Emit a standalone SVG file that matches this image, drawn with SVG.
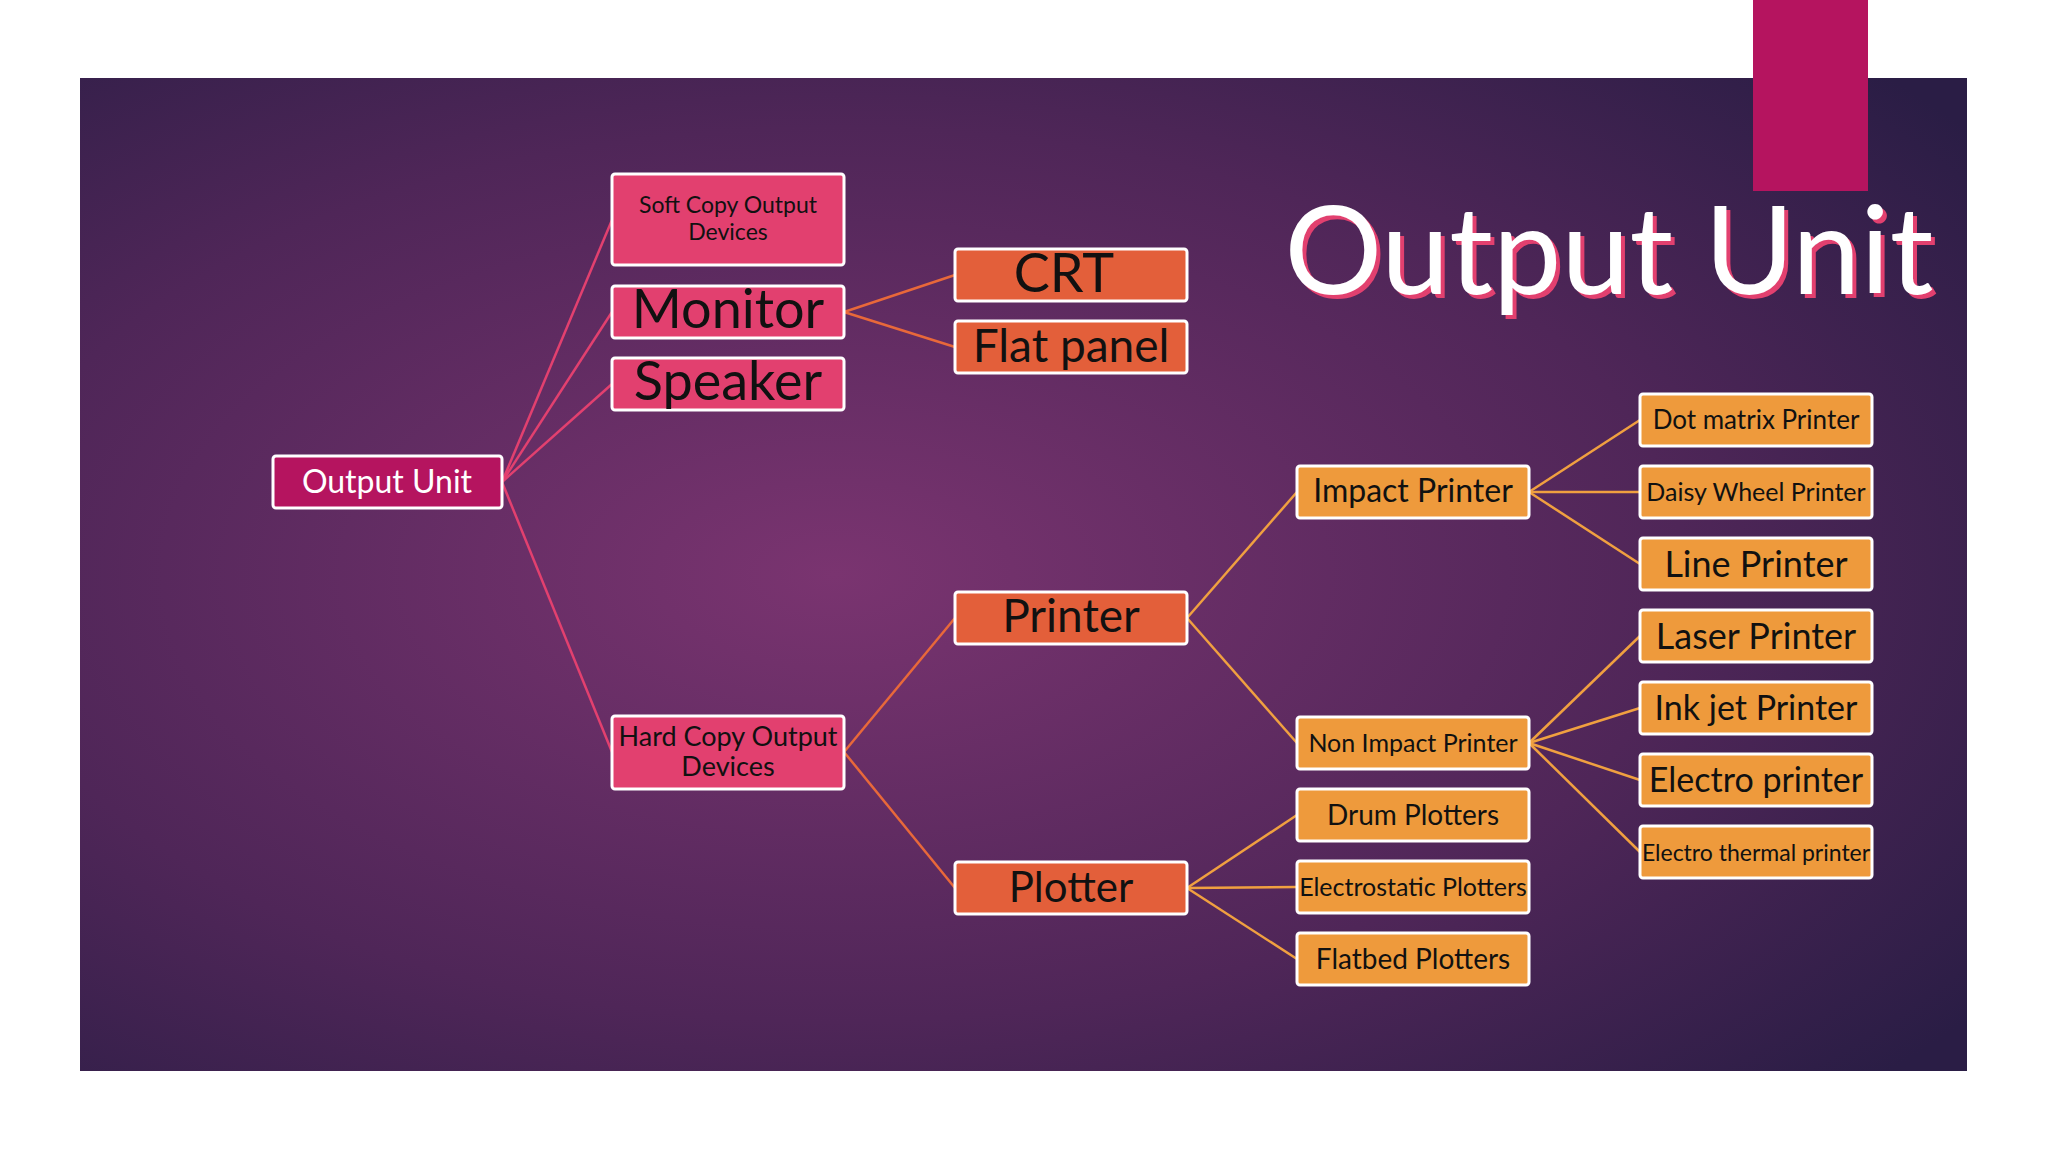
<svg xmlns="http://www.w3.org/2000/svg" width="2048" height="1152" viewBox="0 0 2048 1152">
<defs>
<radialGradient id="bg" cx="0.4" cy="0.5" r="0.75">
<stop offset="0" stop-color="#7a3470"/>
<stop offset="0.6" stop-color="#4f2658"/>
<stop offset="1" stop-color="#2a1d45"/>
</radialGradient>
<style>
.n rect{stroke:#fff;stroke-width:3}
.m rect{fill:#b5145f}
.p rect{fill:#e2406f}
.r rect{fill:#e35f3a}
.o rect{fill:#ee9a3c}
text{font-family:Lato,"Noto Sans",sans-serif;text-anchor:middle;fill:#111}
.l1 line{stroke:#e2406f;stroke-width:2.5}
.l2 line{stroke:#e8683a;stroke-width:2.5}
.l3 line{stroke:#f0a040;stroke-width:2.5}
</style>
</defs>
<rect width="2048" height="1152" fill="#fff"/>
<rect x="80" y="78" width="1887" height="993" fill="url(#bg)"/>
<rect x="1753" y="0" width="115" height="191" fill="#b5145f"/>
<text x="1609" y="294" font-size="122" style="fill:#e2406f" transform="translate(4,4)">Output Unit</text>
<text x="1609" y="294" font-size="122" style="fill:#fff">Output Unit</text>
<g id="connectors">
<g class="l1">
<line x1="502" y1="482" x2="612" y2="220"/>
<line x1="502" y1="482" x2="612" y2="312"/>
<line x1="502" y1="482" x2="612" y2="384"/>
<line x1="502" y1="482" x2="612" y2="752"/>
</g>
<g class="l2">
<line x1="844" y1="312" x2="955" y2="275"/>
<line x1="844" y1="312" x2="955" y2="347"/>
<line x1="844" y1="752" x2="955" y2="618"/>
<line x1="844" y1="752" x2="955" y2="888"/>
</g>
<g class="l3">
<line x1="1187" y1="618" x2="1297" y2="492"/>
<line x1="1187" y1="618" x2="1297" y2="743"/>
<line x1="1187" y1="888" x2="1297" y2="815"/>
<line x1="1187" y1="888" x2="1297" y2="887"/>
<line x1="1187" y1="888" x2="1297" y2="959"/>
<line x1="1529" y1="492" x2="1640" y2="420"/>
<line x1="1529" y1="492" x2="1640" y2="492"/>
<line x1="1529" y1="492" x2="1640" y2="564"/>
<line x1="1529" y1="743" x2="1640" y2="636"/>
<line x1="1529" y1="743" x2="1640" y2="708"/>
<line x1="1529" y1="743" x2="1640" y2="780"/>
<line x1="1529" y1="743" x2="1640" y2="852"/>
</g>
</g>
<g id="output" class="n m"><rect x="273" y="456" width="229" height="52" rx="3"/><text x="387" y="493" font-size="32" style="fill:#fff">Output Unit</text></g>
<g id="soft" class="n p"><rect x="612" y="174" width="232" height="91" rx="3"/><text x="728" y="213" font-size="23">Soft Copy Output</text><text x="728" y="240" font-size="23">Devices</text></g>
<g id="monitor" class="n p"><rect x="612" y="286" width="232" height="52" rx="3"/><text x="728" y="328" font-size="54">Monitor</text></g>
<g id="speaker" class="n p"><rect x="612" y="358" width="232" height="52" rx="3"/><text x="728" y="400" font-size="54">Speaker</text></g>
<g id="hard" class="n p"><rect x="612" y="716" width="232" height="73" rx="3"/><text x="728" y="746" font-size="27">Hard Copy Output</text><text x="728" y="776" font-size="27">Devices</text></g>
<g id="crt" class="n r"><rect x="955" y="249" width="232" height="52" rx="3"/><text x="1064" y="292" font-size="54">CRT</text></g>
<g id="flat" class="n r"><rect x="955" y="321" width="232" height="52" rx="3"/><text x="1071" y="362" font-size="46">Flat panel</text></g>
<g id="printer" class="n r"><rect x="955" y="592" width="232" height="52" rx="3"/><text x="1071" y="632" font-size="46">Printer</text></g>
<g id="plotter" class="n r"><rect x="955" y="862" width="232" height="52" rx="3"/><text x="1071" y="902" font-size="42">Plotter</text></g>
<g id="impact" class="n o"><rect x="1297" y="466" width="232" height="52" rx="3"/><text x="1413" y="502" font-size="32">Impact Printer</text></g>
<g id="nonimpact" class="n o"><rect x="1297" y="717" width="232" height="52" rx="3"/><text x="1413" y="752" font-size="25">Non Impact Printer</text></g>
<g id="drum" class="n o"><rect x="1297" y="789" width="232" height="52" rx="3"/><text x="1413" y="825" font-size="28">Drum Plotters</text></g>
<g id="electrostatic" class="n o"><rect x="1297" y="861" width="232" height="52" rx="3"/><text x="1413" y="896" font-size="25">Electrostatic Plotters</text></g>
<g id="flatbed" class="n o"><rect x="1297" y="933" width="232" height="52" rx="3"/><text x="1413" y="969" font-size="28">Flatbed Plotters</text></g>
<g id="dot" class="n o"><rect x="1640" y="394" width="232" height="52" rx="3"/><text x="1756" y="429" font-size="26">Dot matrix Printer</text></g>
<g id="daisy" class="n o"><rect x="1640" y="466" width="232" height="52" rx="3"/><text x="1756" y="501" font-size="25">Daisy Wheel Printer</text></g>
<g id="line" class="n o"><rect x="1640" y="538" width="232" height="52" rx="3"/><text x="1756" y="577" font-size="36">Line Printer</text></g>
<g id="laser" class="n o"><rect x="1640" y="610" width="232" height="52" rx="3"/><text x="1756" y="649" font-size="36">Laser Printer</text></g>
<g id="inkjet" class="n o"><rect x="1640" y="682" width="232" height="52" rx="3"/><text x="1756" y="720" font-size="34">Ink jet Printer</text></g>
<g id="electro" class="n o"><rect x="1640" y="754" width="232" height="52" rx="3"/><text x="1756" y="792" font-size="34">Electro printer</text></g>
<g id="thermal" class="n o"><rect x="1640" y="826" width="232" height="52" rx="3"/><text x="1756" y="861" font-size="23">Electro thermal printer</text></g>
</svg>
